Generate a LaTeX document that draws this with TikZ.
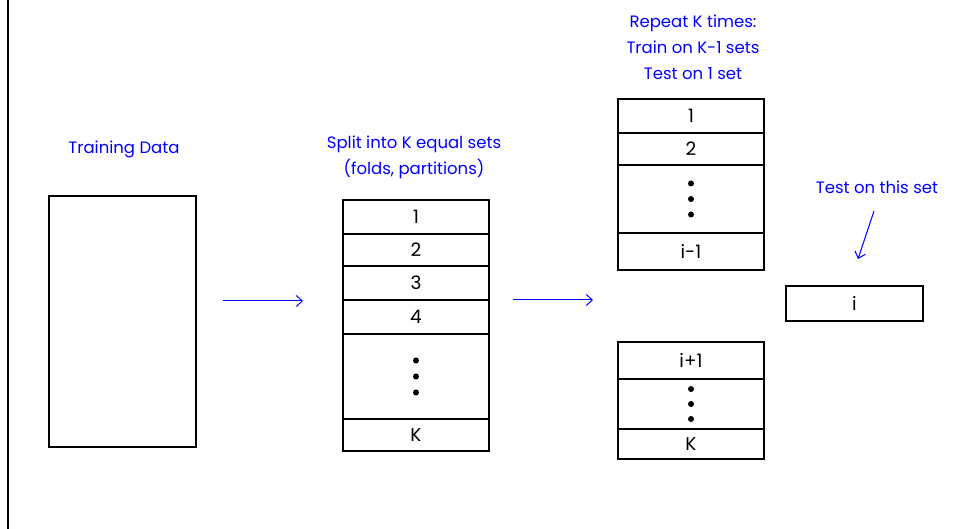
\documentclass[tikz,border=0pt]{standalone}
\usepackage{fontspec}
\setmainfont{Poppins}
\usetikzlibrary{arrows.meta,positioning}
\tikzset {
	cell/.style={rectangle, draw, line width=1.4pt, outer sep=0pt, minimum width=146pt, inner sep=0pt, font=\fontsize{18.5}{20}\selectfont},
	label/.style={text=blue, align=center, font=\fontsize{16.5}{26}\selectfont},
	flow/.style={-{Straight Barb[length=6pt,width=11pt]}, blue, line width=1pt},
	dot/.style={fill=black}
}

\begin{document}
\begin{tikzpicture}[x=1pt, y=-1pt]
	\useasboundingbox (0,0) rectangle (956,529);
	\draw[line width=2pt] (8,0) -- (8,529);

	% training data
	\node[label] (ttrain) at (124,149) {Training Data};
	\node[cell, anchor=north west, minimum width=147pt, minimum height=251pt] (train) at (49,196) {};

	% split into folds
	\node[label] (tsplit) at (414,157) {Split into K equal sets\\(folds, partitions)};
	\node[cell, anchor=north west, minimum height=34pt] (m1) at (343,200) {1};
	\node[cell, below=0pt of m1, minimum height=32pt] (m2) {2};
	\node[cell, below=0pt of m2, minimum height=34pt] (m3) {3};
	\node[cell, below=0pt of m3, minimum height=34pt] (m4) {4};
	\node[cell, below=0pt of m4, minimum height=85pt] (m5) {};
	\node[cell, below=0pt of m5, minimum height=32pt] (m6) {K};
	\fill[dot] ([yshift=-16pt]m5.center) circle (3pt)
		(m5.center) circle (3pt)
		([yshift=16pt]m5.center) circle (3pt);

	% repeat K times
	\node[label] (trepeat) at (693,47) {Repeat K times:\\Train on K-1 sets\\Test on 1 set};
	\node[cell, anchor=north west, minimum height=34pt] (u1) at (618,99) {1};
	\node[cell, below=0pt of u1, minimum height=32pt] (u2) {2};
	\node[cell, below=0pt of u2, minimum height=68pt] (u3) {};
	\node[cell, below=0pt of u3, minimum height=37pt] (u4) {i-1};
	\fill[dot] ([yshift=-15.5pt]u3.center) circle (3pt)
		(u3.center) circle (3pt)
		([yshift=15.5pt]u3.center) circle (3pt);

	\node[cell, anchor=north west, minimum height=37pt] (l1) at (618,342) {i+1};
	\node[cell, below=0pt of l1, minimum height=50pt] (l2) {};
	\node[cell, below=0pt of l2, minimum height=30pt] (l3) {K};
	\fill[dot] ([yshift=-15pt]l2.center) circle (3pt)
		(l2.center) circle (3pt)
		([yshift=15pt]l2.center) circle (3pt);

	% test fold
	\node[label] (ttest) at (877,187) {Test on this set};
	\node[cell, anchor=north west, minimum width=137pt, minimum height=35pt] (test) at (786,286) {i};

	% arrows
	\coordinate (a1) at (223,301);
	\coordinate (b1) at (303,301);
	\coordinate (a2) at (513,300);
	\coordinate (b2) at (593,300);
	\coordinate (a3) at (874,211);
	\coordinate (b3) at (858,259);
	\draw[flow] (a1) -- (b1);
	\draw[flow] (a2) -- (b2);
	\draw[flow] (a3) -- (b3);
\end{tikzpicture}
\end{document}
